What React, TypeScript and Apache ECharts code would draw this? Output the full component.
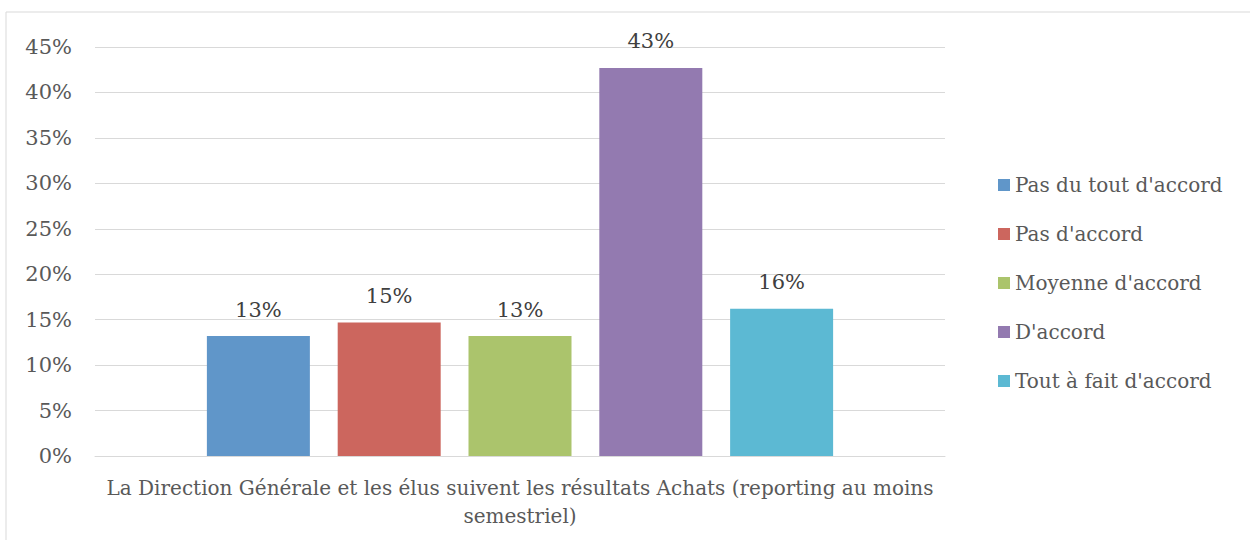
import React, { useEffect, useRef } from "react";
import * as echarts from "echarts";

const categories = [
  "La Direction Générale et les élus suivent les résultats Achats (reporting au moins semestriel)",
];
const seriesNames = [
  "Pas du tout d'accord",
  "Pas d'accord",
  "Moyenne d'accord",
  "D'accord",
  "Tout à fait d'accord",
];
const seriesValues = [0.132, 0.147, 0.132, 0.427, 0.162];
const seriesColors = ["#6096c9", "#cc665e", "#abc46c", "#937ab0", "#5cb9d3"];

const FONT = "DejaVu Serif";

function wrapLastWord(s: string): string {
  const i = s.lastIndexOf(" ");
  return i > 0 ? s.slice(0, i) + "\n" + s.slice(i + 1) : s;
}

export default function App() {
  const ref = useRef<HTMLDivElement>(null);
  useEffect(() => {
    if (!ref.current) return;
    const chart = echarts.init(ref.current, undefined, { renderer: "svg" });
    chart.setOption({
      animation: false,
      backgroundColor: "#ffffff",
      textStyle: { fontFamily: FONT },
      graphic: [
        {
          type: "rect",
          shape: { x: 6, y: 12, width: 1260, height: 540 },
          style: { fill: "none", stroke: "#d9d9d9", lineWidth: 1 },
          silent: true,
        },
      ],
      grid: { left: 95, right: 305, top: 47, bottom: 84 },
      legend: {
        orient: "vertical",
        left: 993,
        top: 168,
        itemWidth: 12,
        itemHeight: 12,
        itemGap: 25,
        icon: "rect",
        textStyle: { fontFamily: FONT, fontSize: 20, color: "#595959", lineHeight: 24 },
        data: seriesNames,
      },
      xAxis: {
        type: "category",
        data: categories,
        axisTick: { show: false },
        axisLine: { show: true, lineStyle: { color: "#d9d9d9", width: 1 } },
        axisLabel: {
          fontFamily: FONT,
          fontSize: 20,
          color: "#595959",
          lineHeight: 28,
          margin: 18,
          formatter: (v: string) => wrapLastWord(v),
        },
      },
      yAxis: {
        type: "value",
        min: 0,
        max: 0.45,
        interval: 0.05,
        axisLine: { show: false },
        axisTick: { show: false },
        splitLine: { lineStyle: { color: "#d9d9d9", width: 1 } },
        axisLabel: {
          fontFamily: FONT,
          fontSize: 21,
          color: "#595959",
          margin: 23,
          formatter: (v: number) => Math.round(v * 100) + "%",
        },
      },
      series: seriesNames.map((name, i) => ({
        name,
        type: "bar",
        data: [seriesValues[i]],
        barWidth: 103,
        barGap: "27%",
        itemStyle: { color: seriesColors[i] },
        label: {
          show: true,
          position: "top",
          distance: 16,
          fontFamily: FONT,
          fontSize: 21,
          color: "#404040",
          formatter: (p: any) => Math.round(p.value * 100) + "%",
        },
      })),
    });
    return () => chart.dispose();
  }, []);
  return (
    <div
      ref={ref}
      style={{ position: "fixed", left: 0, top: 0, width: 1250, height: 540 }}
    />
  );
}
